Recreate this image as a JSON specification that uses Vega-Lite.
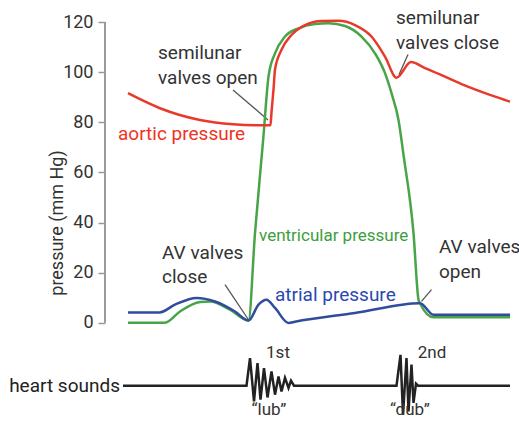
{
  "$schema": "https://vega.github.io/schema/vega-lite/v6.json",
  "width": 410,
  "height": 401,
  "autosize": {"type": "none"},
  "padding": {"left": 105, "top": 22, "right": 4, "bottom": 4},
  "background": "white",
  "config": {"view": {"stroke": null}, "font": "Roboto", "axis": {"grid": false}},
  "datasets": {
    "curves": [
      {"series": "aortic", "t": 46, "p": 91.6},
      {"series": "aortic", "t": 110, "p": 85.6},
      {"series": "aortic", "t": 190, "p": 80.9},
      {"series": "aortic", "t": 256, "p": 79.2},
      {"series": "aortic", "t": 310, "p": 78.8},
      {"series": "aortic", "t": 331, "p": 78.8},
      {"series": "aortic", "t": 333, "p": 84},
      {"series": "aortic", "t": 337, "p": 93},
      {"series": "aortic", "t": 340, "p": 101},
      {"series": "aortic", "t": 353, "p": 108.9},
      {"series": "aortic", "t": 373, "p": 114.8},
      {"series": "aortic", "t": 400, "p": 118.8},
      {"series": "aortic", "t": 433, "p": 120.4},
      {"series": "aortic", "t": 467, "p": 120.5},
      {"series": "aortic", "t": 500, "p": 118.8},
      {"series": "aortic", "t": 533, "p": 114.2},
      {"series": "aortic", "t": 560, "p": 106.2},
      {"series": "aortic", "t": 583, "p": 97.8},
      {"series": "aortic", "t": 612, "p": 104},
      {"series": "aortic", "t": 640, "p": 101.6},
      {"series": "aortic", "t": 680, "p": 98.2},
      {"series": "aortic", "t": 717, "p": 94.9},
      {"series": "aortic", "t": 770, "p": 90.9},
      {"series": "aortic", "t": 810, "p": 88.2},
      {"series": "ventricular", "t": 46, "p": 0},
      {"series": "ventricular", "t": 120, "p": 0},
      {"series": "ventricular", "t": 150, "p": 4.5},
      {"series": "ventricular", "t": 190, "p": 8.3},
      {"series": "ventricular", "t": 210, "p": 8.5},
      {"series": "ventricular", "t": 250, "p": 5.2},
      {"series": "ventricular", "t": 287, "p": 0.9},
      {"series": "ventricular", "t": 300, "p": 35.8},
      {"series": "ventricular", "t": 317, "p": 74.6},
      {"series": "ventricular", "t": 327, "p": 98.2},
      {"series": "ventricular", "t": 340, "p": 107.5},
      {"series": "ventricular", "t": 360, "p": 114.2},
      {"series": "ventricular", "t": 387, "p": 117.5},
      {"series": "ventricular", "t": 420, "p": 119.2},
      {"series": "ventricular", "t": 447, "p": 119.5},
      {"series": "ventricular", "t": 480, "p": 118.4},
      {"series": "ventricular", "t": 513, "p": 114.2},
      {"series": "ventricular", "t": 540, "p": 107.5},
      {"series": "ventricular", "t": 560, "p": 99.6},
      {"series": "ventricular", "t": 573, "p": 91.6},
      {"series": "ventricular", "t": 587, "p": 80.9},
      {"series": "ventricular", "t": 597, "p": 67},
      {"series": "ventricular", "t": 617, "p": 35.8},
      {"series": "ventricular", "t": 627, "p": 9.2},
      {"series": "ventricular", "t": 630, "p": 7.8},
      {"series": "ventricular", "t": 657, "p": 2.2},
      {"series": "ventricular", "t": 810, "p": 2.2},
      {"series": "atrial", "t": 46, "p": 4.1},
      {"series": "atrial", "t": 109, "p": 4.1},
      {"series": "atrial", "t": 140, "p": 7.2},
      {"series": "atrial", "t": 183, "p": 9.9},
      {"series": "atrial", "t": 220, "p": 8.5},
      {"series": "atrial", "t": 260, "p": 4.5},
      {"series": "atrial", "t": 287, "p": 0.9},
      {"series": "atrial", "t": 307, "p": 7.2},
      {"series": "atrial", "t": 323, "p": 9.2},
      {"series": "atrial", "t": 340, "p": 5.9},
      {"series": "atrial", "t": 367, "p": -0.1},
      {"series": "atrial", "t": 380, "p": 0.4},
      {"series": "atrial", "t": 500, "p": 3.9},
      {"series": "atrial", "t": 630, "p": 7.8},
      {"series": "atrial", "t": 657, "p": 3.2},
      {"series": "atrial", "t": 810, "p": 3.2}
    ],
    "sound": [
      {"t": 36, "p": -25.1},
      {"t": 283, "p": -25.1},
      {"t": 290, "p": -14.1},
      {"t": 298, "p": -31.4},
      {"t": 305, "p": -16.1},
      {"t": 311, "p": -30.7},
      {"t": 318, "p": -18.1},
      {"t": 325, "p": -29.8},
      {"t": 333, "p": -19.4},
      {"t": 340, "p": -28.7},
      {"t": 347, "p": -21.4},
      {"t": 353, "p": -27.4},
      {"t": 360, "p": -22.0},
      {"t": 367, "p": -26.0},
      {"t": 372, "p": -23.1},
      {"t": 378, "p": -25.1},
      {"t": 583, "p": -25.1},
      {"t": 591, "p": -12.8},
      {"t": 596, "p": -36.7},
      {"t": 603, "p": -14.1},
      {"t": 607, "p": -35.4},
      {"t": 613, "p": -16.7},
      {"t": 617, "p": -32.0},
      {"t": 622, "p": -24.3},
      {"t": 626, "p": -25.1},
      {"t": 810, "p": -25.1}
    ],
    "leaders": [
      {"t": 256, "p": 92.9, "t2": 326, "p2": 80.9},
      {"t": 588, "p": 99, "t2": 606, "p2": 107},
      {"t": 240, "p": 15.2, "t2": 287, "p2": 1.2},
      {"t": 633, "p": 8.5, "t2": 653, "p2": 13.2}
    ],
    "axisline": [{"t": 0, "p": 0, "p2": 120}],
    "notes": [
      {"text": "semilunar", "t": 106, "p": 107.7},
      {"text": "valves open", "t": 106, "p": 97.7},
      {"text": "AV valves", "t": 114, "p": 27.9},
      {"text": "close", "t": 114, "p": 18.3},
      {"text": "semilunar", "t": 582, "p": 121.6},
      {"text": "valves close", "t": 582, "p": 111.6},
      {"text": "AV valves", "t": 668, "p": 30.3},
      {"text": "open", "t": 668, "p": 20.3}
    ],
    "serieslabels": [
      {"series": "aortic", "text": "aortic pressure", "t": 26, "p": 75.4},
      {"series": "ventricular", "text": "ventricular pressure", "t": 308, "p": 34.7},
      {"series": "atrial", "text": "atrial pressure", "t": 340, "p": 11.2}
    ],
    "soundlabels": [
      {"text": "1st", "t": 346, "p": -12.0},
      {"text": "2nd", "t": 654, "p": -12.0},
      {"text": "“lub”", "t": 328, "p": -34.7},
      {"text": "“dub”", "t": 610, "p": -34.7}
    ],
    "rowlabel": [{"text": "heart sounds", "t": 30, "p": -25.1}]
  },
  "encoding": {
    "x": {"field": "t", "type": "quantitative", "scale": {"domain": [0, 820], "nice": false, "zero": false}, "axis": null},
    "y": {
      "field": "p",
      "type": "quantitative",
      "scale": {"domain": [-40, 120], "nice": false, "zero": false},
      "axis": {
        "title": "pressure (mm Hg)",
        "values": [0, 20, 40, 60, 80, 100, 120],
        "domain": false,
        "tickColor": "#999999",
        "tickWidth": 1.5,
        "tickSize": 7,
        "labelFontSize": 18,
        "labelColor": "#333333",
        "labelPadding": 5,
        "titleFontSize": 18,
        "titleFontWeight": "normal",
        "titleColor": "#333333",
        "titlePadding": -4
      }
    }
  },
  "layer": [
    {
      "data": {"name": "axisline"},
      "mark": {"type": "rule", "color": "#999999", "strokeWidth": 2},
      "encoding": {"y2": {"field": "p2"}}
    },
    {
      "data": {"name": "leaders"},
      "mark": {"type": "rule", "color": "#555555", "strokeWidth": 1.3},
      "encoding": {"x2": {"field": "t2"}, "y2": {"field": "p2"}}
    },
    {
      "data": {"name": "curves"},
      "transform": [{"filter": "datum.series === 'ventricular'"}],
      "mark": {"type": "line", "interpolate": "monotone", "color": "#48a448", "strokeWidth": 2.5}
    },
    {
      "data": {"name": "curves"},
      "transform": [{"filter": "datum.series === 'aortic'"}],
      "mark": {"type": "line", "interpolate": "monotone", "color": "#e8392b", "strokeWidth": 2.5}
    },
    {
      "data": {"name": "curves"},
      "transform": [{"filter": "datum.series === 'atrial'"}],
      "mark": {"type": "line", "interpolate": "monotone", "color": "#2f4d9c", "strokeWidth": 2.5}
    },
    {
      "data": {"name": "sound"},
      "mark": {"type": "line", "color": "#222222", "strokeWidth": 2.5}
    },
    {
      "data": {"name": "notes"},
      "mark": {"type": "text", "align": "left", "baseline": "middle", "fontSize": 19, "color": "#333333"},
      "encoding": {"text": {"field": "text"}}
    },
    {
      "data": {"name": "serieslabels"},
      "transform": [{"filter": "datum.series === 'aortic'"}],
      "mark": {"type": "text", "align": "left", "baseline": "middle", "fontSize": 19, "color": "#f0321e"},
      "encoding": {"text": {"field": "text"}}
    },
    {
      "data": {"name": "serieslabels"},
      "transform": [{"filter": "datum.series === 'ventricular'"}],
      "mark": {"type": "text", "align": "left", "baseline": "middle", "fontSize": 17, "color": "#3d9e3d"},
      "encoding": {"text": {"field": "text"}}
    },
    {
      "data": {"name": "serieslabels"},
      "transform": [{"filter": "datum.series === 'atrial'"}],
      "mark": {"type": "text", "align": "left", "baseline": "middle", "fontSize": 19, "color": "#2a48b0"},
      "encoding": {"text": {"field": "text"}}
    },
    {
      "data": {"name": "soundlabels"},
      "mark": {"type": "text", "align": "center", "baseline": "middle", "fontSize": 17, "color": "#333333"},
      "encoding": {"text": {"field": "text"}}
    },
    {
      "data": {"name": "rowlabel"},
      "mark": {"type": "text", "align": "right", "baseline": "middle", "fontSize": 19, "color": "#222222"},
      "encoding": {"text": {"field": "text"}}
    }
  ]
}
